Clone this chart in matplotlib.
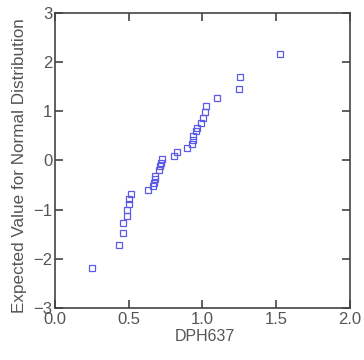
import matplotlib
matplotlib.use("Agg")
import matplotlib.pyplot as plt

# values
dph637 = [0.253, 0.434, 0.463, 0.463, 0.486, 0.486, 0.502, 0.502, 0.513,
          0.633, 0.667, 0.673, 0.678, 0.678, 0.705, 0.712, 0.716, 0.723,
          0.810, 0.825, 0.893, 0.927, 0.933, 0.938, 0.954, 0.960, 0.993,
          1.006, 1.017, 1.024, 1.096, 1.245, 1.254, 1.525]
expected = [-2.19, -1.72, -1.47, -1.27, -1.13, -1.00, -0.89, -0.79, -0.68,
            -0.60, -0.52, -0.45, -0.38, -0.31, -0.19, -0.12, -0.05, 0.03,
            0.09, 0.18, 0.26, 0.34, 0.42, 0.50, 0.59, 0.66, 0.76,
            0.86, 0.98, 1.10, 1.27, 1.45, 1.69, 2.17]
xticks = [0.0, 0.5, 1.0, 1.5, 2.0]
yticks = [-3, -2, -1, 0, 1, 2, 3]

plt.rcParams["font.family"] = ["Liberation Sans", "DejaVu Sans"]
text_color = "#555555"

fig = plt.figure(figsize=(3.64, 3.6), dpi=100)
ax = fig.add_axes([0.151, 0.1444, 0.8105, 0.8196])

ax.plot(dph637, expected, linestyle="none", marker="s", markersize=5,
        markerfacecolor="none", markeredgecolor="#5a5ae6", markeredgewidth=0.9)

ax.set_xlim(0, 2)
ax.set_ylim(-3, 3)
ax.set_xticks(xticks)
ax.set_xticklabels([f"{v:.1f}" for v in xticks])
ax.set_yticks(yticks)
ax.tick_params(direction="in", top=True, right=True, length=6, width=1.2,
               color="#444444", labelsize=12, labelcolor=text_color, pad=2)
ax.tick_params(axis="x", pad=3)
for s in ax.spines.values():
    s.set_color("#444444")
    s.set_linewidth(1.2)

ax.set_xlabel("DPH637", fontsize=11.5, color=text_color)
ax.set_ylabel("Expected Value for Normal Distribution", fontsize=12.3,
              color=text_color)
ax.xaxis.set_label_coords(0.508, -0.097)
ax.yaxis.set_label_coords(-0.119, 0.481)
ax.yaxis.label.set_va("center")
ax.xaxis.label.set_va("center")

fig.savefig("out.png", dpi=100)
